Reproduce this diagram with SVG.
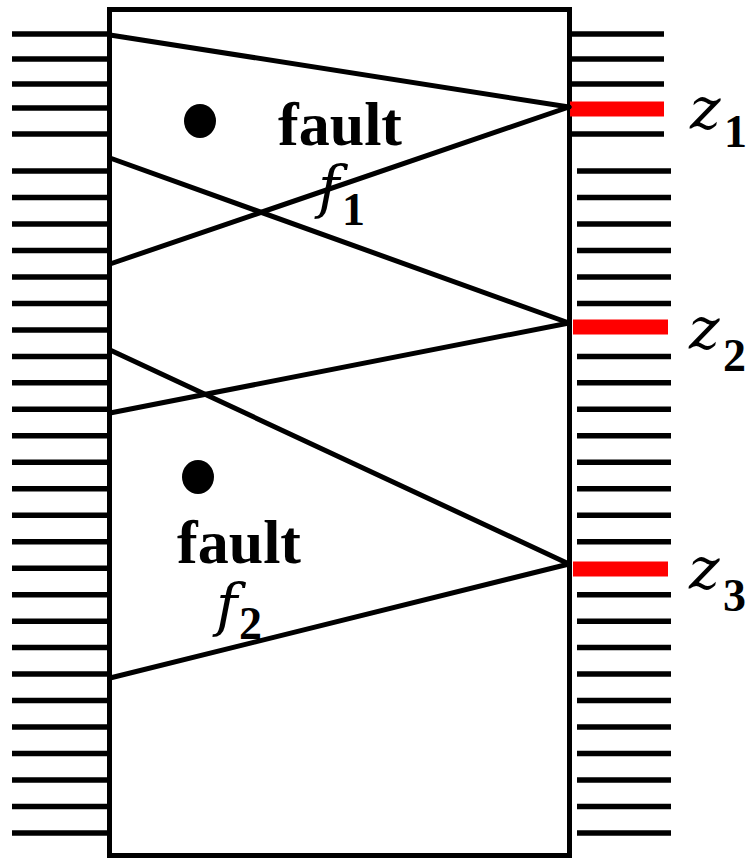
<svg xmlns="http://www.w3.org/2000/svg" width="749" height="859" viewBox="0 0 749 859">
<style>
.tk{stroke:#000;stroke-width:5.5}
.red{stroke:#ff0000;stroke-width:15}
.box{fill:#fff;stroke:#000;stroke-width:5}
.con{stroke:#000;stroke-width:5;fill:none;stroke-linecap:round}
.lbl{font-family:"Liberation Serif","Times New Roman",serif;font-weight:bold;font-size:62px;fill:#000}
.it{font-family:"DejaVu Serif","Liberation Serif",serif;font-style:italic;font-size:58px;fill:#000}
.sub{font-family:"Liberation Serif","Times New Roman",serif;font-weight:bold;font-size:46px;fill:#000}
</style>
<rect width="749" height="859" fill="#fff"/>
<g id="left-pins">
<line class="tk" x1="12" y1="34" x2="107" y2="34"/>
<line class="tk" x1="12" y1="59" x2="107" y2="59"/>
<line class="tk" x1="12" y1="84" x2="107" y2="84"/>
<line class="tk" x1="12" y1="108" x2="107" y2="108"/>
<line class="tk" x1="12" y1="134" x2="107" y2="134"/>
<line class="tk" x1="12" y1="171" x2="107" y2="171"/>
<line class="tk" x1="12" y1="197.5" x2="107" y2="197.5"/>
<line class="tk" x1="12" y1="224" x2="107" y2="224"/>
<line class="tk" x1="12" y1="250.4" x2="107" y2="250.4"/>
<line class="tk" x1="12" y1="276.9" x2="107" y2="276.9"/>
<line class="tk" x1="12" y1="303.4" x2="107" y2="303.4"/>
<line class="tk" x1="12" y1="329.9" x2="107" y2="329.9"/>
<line class="tk" x1="12" y1="356.4" x2="107" y2="356.4"/>
<line class="tk" x1="12" y1="382.8" x2="107" y2="382.8"/>
<line class="tk" x1="12" y1="409.3" x2="107" y2="409.3"/>
<line class="tk" x1="12" y1="435.8" x2="107" y2="435.8"/>
<line class="tk" x1="12" y1="462.3" x2="107" y2="462.3"/>
<line class="tk" x1="12" y1="488.8" x2="107" y2="488.8"/>
<line class="tk" x1="12" y1="515.2" x2="107" y2="515.2"/>
<line class="tk" x1="12" y1="541.7" x2="107" y2="541.7"/>
<line class="tk" x1="12" y1="568.2" x2="107" y2="568.2"/>
<line class="tk" x1="12" y1="594.7" x2="107" y2="594.7"/>
<line class="tk" x1="12" y1="621.2" x2="107" y2="621.2"/>
<line class="tk" x1="12" y1="647.6" x2="107" y2="647.6"/>
<line class="tk" x1="12" y1="674.1" x2="107" y2="674.1"/>
<line class="tk" x1="12" y1="700.6" x2="107" y2="700.6"/>
<line class="tk" x1="12" y1="727.1" x2="107" y2="727.1"/>
<line class="tk" x1="12" y1="753.6" x2="107" y2="753.6"/>
<line class="tk" x1="12" y1="780" x2="107" y2="780"/>
<line class="tk" x1="12" y1="806.5" x2="107" y2="806.5"/>
<line class="tk" x1="12" y1="833" x2="107" y2="833"/>
</g>
<g id="right-pins">
<line class="tk" x1="572" y1="34" x2="664" y2="34"/>
<line class="tk" x1="572" y1="59" x2="664" y2="59"/>
<line class="tk" x1="572" y1="84" x2="664" y2="84"/>
<line class="tk" x1="572" y1="134" x2="664" y2="134"/>
<line class="tk" x1="577" y1="171" x2="671" y2="171"/>
<line class="tk" x1="577" y1="197.5" x2="671" y2="197.5"/>
<line class="tk" x1="577" y1="224" x2="671" y2="224"/>
<line class="tk" x1="577" y1="250.4" x2="671" y2="250.4"/>
<line class="tk" x1="577" y1="276.9" x2="671" y2="276.9"/>
<line class="tk" x1="577" y1="303.4" x2="671" y2="303.4"/>
<line class="tk" x1="577" y1="356.4" x2="671" y2="356.4"/>
<line class="tk" x1="577" y1="382.8" x2="671" y2="382.8"/>
<line class="tk" x1="577" y1="409.3" x2="671" y2="409.3"/>
<line class="tk" x1="577" y1="435.8" x2="671" y2="435.8"/>
<line class="tk" x1="577" y1="462.3" x2="671" y2="462.3"/>
<line class="tk" x1="577" y1="488.8" x2="671" y2="488.8"/>
<line class="tk" x1="577" y1="515.2" x2="671" y2="515.2"/>
<line class="tk" x1="577" y1="541.7" x2="671" y2="541.7"/>
<line class="tk" x1="577" y1="594.7" x2="671" y2="594.7"/>
<line class="tk" x1="577" y1="621.2" x2="671" y2="621.2"/>
<line class="tk" x1="577" y1="647.6" x2="671" y2="647.6"/>
<line class="tk" x1="577" y1="674.1" x2="671" y2="674.1"/>
<line class="tk" x1="577" y1="700.6" x2="671" y2="700.6"/>
<line class="tk" x1="577" y1="727.1" x2="671" y2="727.1"/>
<line class="tk" x1="577" y1="753.6" x2="671" y2="753.6"/>
<line class="tk" x1="577" y1="780" x2="671" y2="780"/>
<line class="tk" x1="577" y1="806.5" x2="671" y2="806.5"/>
<line class="tk" x1="577" y1="833" x2="671" y2="833"/>
</g>
<g id="circuit">
<rect class="box" x="109.5" y="9.5" width="460" height="846"/>
</g>
<g id="outputs">
<g id="z1"><line class="red" x1="570" y1="109" x2="664" y2="109"/><text class="it" x="690" y="129">z</text><text class="sub" x="724" y="147">1</text></g>
<g id="z2"><line class="red" x1="573" y1="327" x2="668" y2="327"/><text class="it" x="689" y="349">z</text><text class="sub" x="723" y="371">2</text></g>
<g id="z3"><line class="red" x1="573" y1="569" x2="668" y2="569"/><text class="it" x="689" y="589">z</text><text class="sub" x="723" y="611">3</text></g>
</g>
<g id="connectors">
<line class="con" x1="110" y1="35" x2="569" y2="107"/>
<line class="con" x1="110" y1="264" x2="569" y2="107"/>
<line class="con" x1="110" y1="158" x2="569" y2="323"/>
<line class="con" x1="110" y1="413" x2="569" y2="323"/>
<line class="con" x1="110" y1="350" x2="569" y2="564"/>
<line class="con" x1="110" y1="678" x2="569" y2="564"/>
</g>
<g id="fault1">
<ellipse cx="200" cy="121" rx="16" ry="17"/>
<text class="lbl" x="278" y="145">fault</text>
<text class="it" x="318" y="207">f</text><text class="sub" x="342" y="225">1</text>
</g>
<g id="fault2">
<ellipse cx="198" cy="477" rx="16" ry="17"/>
<text class="lbl" x="177" y="563">fault</text>
<text class="it" x="216" y="625">f</text><text class="sub" x="239" y="639">2</text>
</g>
</svg>
